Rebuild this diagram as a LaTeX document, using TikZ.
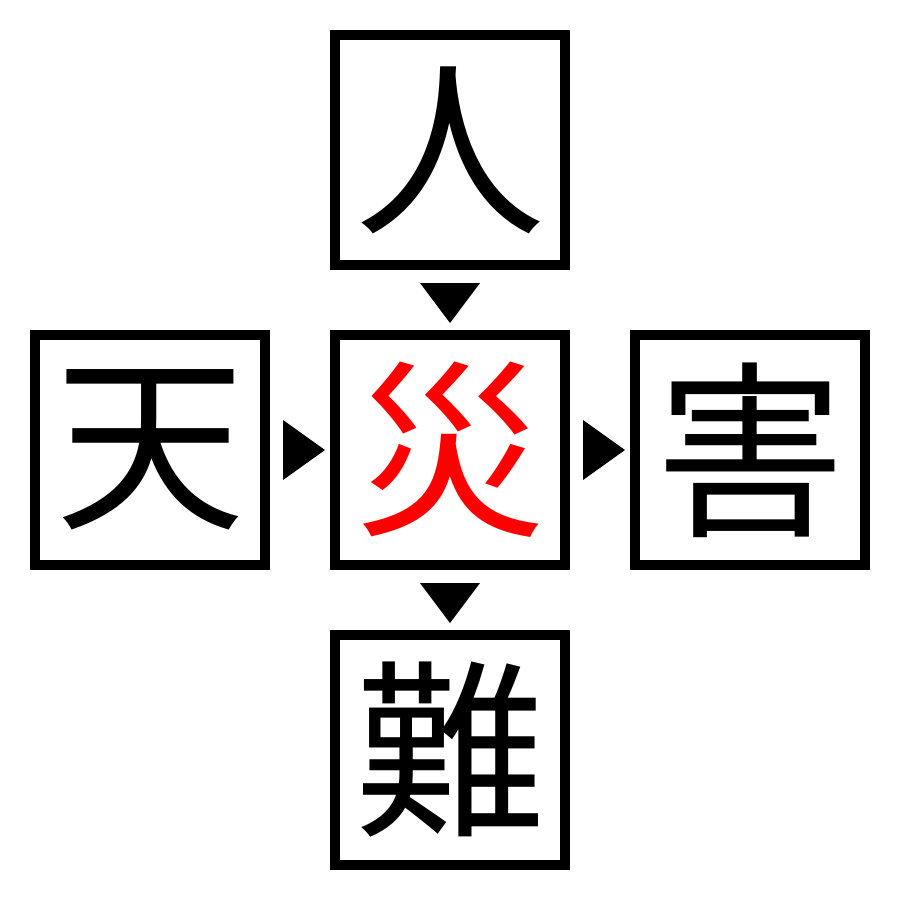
\documentclass[tikz,border=0pt]{standalone}
\usepackage{fontspec}
\newfontfamily\cjk{Noto Sans CJK JP}
\definecolor{hred}{RGB}{255,0,0}
\begin{document}
\begin{tikzpicture}[x=1pt,y=-1pt,
  kbox/.style={draw=black,line width=10pt,minimum size=230pt,inner sep=0pt,font=\cjk\fontsize{190}{190}\selectfont},
  tri/.style={fill=black,draw=none}]
\useasboundingbox (0,0) rectangle (900,900);
\node[kbox] (top) at (450,150) {人};
\node[kbox,text=hred] (mid) at (450,450) {災};
\node[kbox] (left) at (150,450) {天};
\node[kbox] (right) at (750,450) {害};
\node[kbox] (bot) at (450,750) {難};
\fill[tri] (420,283) -- (480,283) -- (450,323) -- cycle;
\fill[tri] (420,583) -- (480,583) -- (450,623) -- cycle;
\fill[tri] (283,420) -- (283,480) -- (325,450) -- cycle;
\fill[tri] (583,420) -- (583,480) -- (625,450) -- cycle;
\end{tikzpicture}
\end{document}
